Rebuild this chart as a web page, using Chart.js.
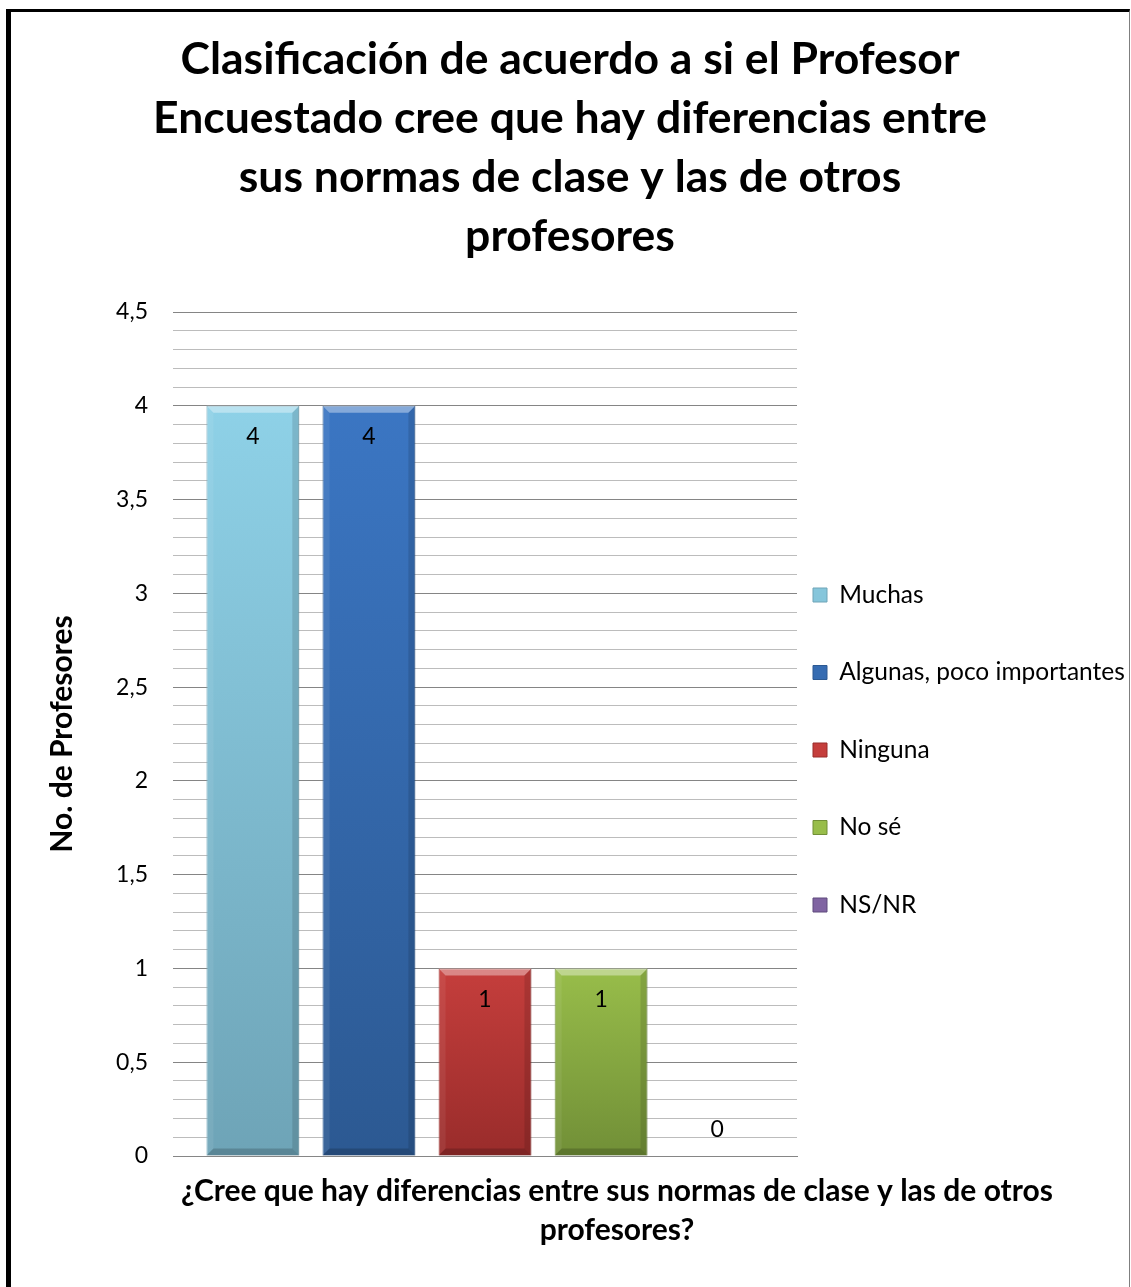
<!DOCTYPE html>
<html>
<head>
<meta charset="utf-8">
<title>Clasificación profesores</title>
<script src="https://cdn.jsdelivr.net/npm/chart.js@4.4.1/dist/chart.umd.min.js"></script>
<style>
  html, body { margin: 0; padding: 0; background: #fff; }
  #marco {
    position: absolute; left: 6px; top: 9px; width: 1118px; height: 1278px;
    border-left: 5px solid #000; border-top: 3px solid #000; border-right: 1px solid #7f7f7f;
  }
  canvas { display: block; }
</style>
</head>
<body>
<div id="marco"><canvas id="grafico" width="1118" height="1275"></canvas></div>
<script>
const FUENTE = "Lato, 'Open Sans', sans-serif";

// datos
const categorias = ["¿Cree que hay diferencias entre sus normas de clase y las de otros profesores?"];
const respuestas = ["Muchas", "Algunas, poco importantes", "Ninguna", "No sé", "NS/NR"];
const profesores = [4, 4, 1, 1, 0];

const titulo = [
  "Clasificación de acuerdo a si el Profesor",
  "Encuestado cree que hay diferencias entre",
  "sus normas de clase y las de otros",
  "profesores",
];
const tituloX = ["¿Cree que hay diferencias entre sus normas de clase y las de otros", "profesores?"];
const tituloY = "No. de Profesores";

// colores (arriba -> abajo de cada barra)
const colorArriba = ["#8ed1e7", "#3b76c3", "#c53e3c", "#98bd4a", "#8064a2"];
const colorAbajo = ["#6ea4b7", "#2c5992", "#992c2b", "#718f37", "#5f4a7c"];

function esMayor(v) {
  return Math.abs(v * 2 - Math.round(v * 2)) < 1e-6;
}

function relleno(i) {
  return function (ctx) {
    const chart = ctx.chart;
    if (ctx.type !== "data" || !chart.chartArea || !chart.scales.y) return colorArriba[i];
    const y = chart.scales.y;
    const top = y.getPixelForValue(ctx.raw);
    const base = y.getPixelForValue(0);
    if (base - top < 1) return colorArriba[i];
    const g = chart.ctx.createLinearGradient(0, top, 0, base);
    g.addColorStop(0, colorArriba[i]);
    g.addColorStop(1, colorAbajo[i]);
    return g;
  };
}

function poligono(ctx, pts, color) {
  ctx.beginPath();
  ctx.moveTo(pts[0][0], pts[0][1]);
  for (let k = 1; k < pts.length; k++) ctx.lineTo(pts[k][0], pts[k][1]);
  ctx.closePath();
  ctx.fillStyle = color;
  ctx.fill();
}

// ancho de leyenda fijo como en la imagen
const ANCHO_LEYENDA = 332;
const TAM_LEYENDA = 24.5;
const medidor = document.createElement("canvas").getContext("2d");
medidor.font = TAM_LEYENDA + "px " + FUENTE;
const textoMax = Math.max(...respuestas.map((r) => medidor.measureText(r).width));
const rellenoDerecho = Math.max(0, ANCHO_LEYENDA - (16 + 14 + TAM_LEYENDA / 2 + textoMax + 10));

const extras = {
  id: "extras",
  afterLayout(chart) {
    // la leyenda ocupa todo el alto; se baja para alinearla como en Excel
    chart.legend.top += 119;
    chart.legend.bottom += 119;
  },
  afterDatasetsDraw(chart) {
    const ctx = chart.ctx;
    chart.data.datasets.forEach((ds, i) => {
      const meta = chart.getDatasetMeta(i);
      meta.data.forEach((bar, j) => {
        const v = ds.data[j];
        const l = bar.x - bar.width / 2, r = bar.x + bar.width / 2, t = bar.y, b = bar.base;
        ctx.save();
        if (b - t > 4) {
          const e = 7;
          poligono(ctx, [[l, t], [r, t], [r - e, t + e], [l + e, t + e]], "rgba(255,255,255,0.38)");
          poligono(ctx, [[l, t], [l + e, t + e], [l + e, b - e], [l, b]], "rgba(255,255,255,0.07)");
          poligono(ctx, [[r, t], [r - e, t + e], [r - e, b - e], [r, b]], "rgba(0,0,0,0.12)");
          poligono(ctx, [[l, b], [l + e, b - e], [r - e, b - e], [r, b]], "rgba(0,0,0,0.18)");
        }
        ctx.fillStyle = "#000";
        ctx.font = "23px " + FUENTE;
        ctx.textAlign = "center";
        ctx.textBaseline = "middle";
        ctx.fillText(String(v).replace(".", ","), bar.x, v > 0 ? t + 31 : t - 26);
        ctx.restore();
      });
    });
  },
  afterDraw(chart) {
    const ctx = chart.ctx;
    const area = chart.chartArea;
    ctx.save();
    ctx.fillStyle = "#000";
    ctx.font = "bold 30px " + FUENTE;
    ctx.textAlign = "center";
    ctx.textBaseline = "middle";
    const cx = area.left + 444;
    tituloX.forEach((linea, k) => ctx.fillText(linea, cx, area.bottom + 35 + k * 39));
    ctx.restore();
  },
};

const data = {
  labels: categorias,
  datasets: respuestas.map((nombre, i) => ({
    label: nombre,
    data: [profesores[i]],
    backgroundColor: relleno(i),
    borderColor: colorAbajo[i],
    borderWidth: 1,
    categoryPercentage: 0.93,
    barPercentage: 0.8,
  })),
};

const config = {
  type: "bar",
  data: data,
  plugins: [extras],
  options: {
    responsive: false,
    animation: false,
    layout: { padding: { top: 0, left: 0, bottom: 0, right: rellenoDerecho } },
    plugins: {
      title: {
        display: true,
        text: titulo,
        color: "#000",
        font: { family: FUENTE, size: 44.5, weight: "bold", lineHeight: 59 / 44.5 },
        padding: { top: 18, bottom: 46 },
      },
      legend: {
        position: "right",
        maxWidth: ANCHO_LEYENDA,
        labels: {
          boxWidth: 14,
          boxHeight: 14,
          padding: 16,
          color: "#000",
          font: { family: FUENTE, size: TAM_LEYENDA, lineHeight: 61.5 / TAM_LEYENDA },
          generateLabels: (chart) =>
            Chart.defaults.plugins.legend.labels.generateLabels(chart).map((it) => ({ ...it, text: [it.text] })),
        },
      },
      tooltip: { enabled: false },
    },
    scales: {
      x: {
        grid: { display: false },
        border: { display: true, color: "#868686", width: 1 },
        ticks: { display: false },
        afterFit: (s) => { s.height = 131; },
      },
      y: {
        min: 0,
        max: 4.5,
        border: { display: false },
        grid: {
          drawTicks: false,
          color: (c) => (esMayor(c.tick.value) ? "#858585" : "#bcbcbc"),
          lineWidth: 1,
        },
        ticks: {
          stepSize: 0.1,
          autoSkip: false,
          maxTicksLimit: 100,
          padding: 25,
          color: "#000",
          font: { family: FUENTE, size: 23 },
          callback: (v) => (esMayor(v) ? String(Math.round(v * 10) / 10).replace(".", ",") : ""),
        },
        title: {
          display: true,
          text: tituloY,
          color: "#000",
          font: { family: FUENTE, size: 30, weight: "bold" },
          padding: { top: 33, bottom: 0 },
        },
        afterFit: (s) => { s.width = 162; },
      },
    },
  },
};

new Chart(document.getElementById("grafico"), config);
</script>
</body>
</html>
